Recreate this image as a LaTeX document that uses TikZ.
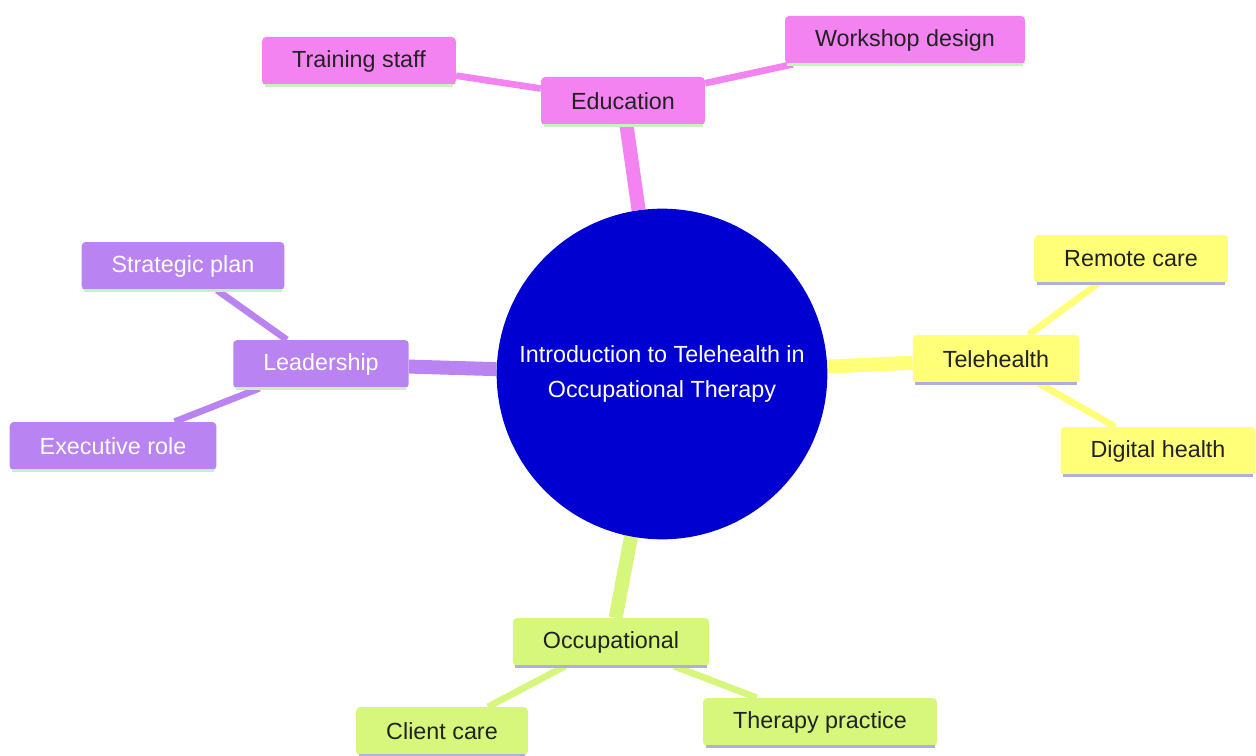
\documentclass[tikz,border=0pt]{standalone}
\usepackage{fontspec}
\setmainfont{Liberation Sans}
\usetikzlibrary{backgrounds}

\definecolor{hub}{HTML}{0000D0}
\definecolor{pinkbr}{HTML}{F283F0}
\definecolor{purplebr}{HTML}{B983F2}
\definecolor{yellowbr}{HTML}{FFFF78}
\definecolor{greenbr}{HTML}{D6F77C}
\definecolor{ulgreen}{HTML}{C6F2C0}
\definecolor{ullav}{HTML}{AFAEE3}
\definecolor{txt}{HTML}{222222}

\begin{document}
\begin{tikzpicture}[x=0.75pt,y=-0.75pt,
    font=\fontsize{17.5}{20}\selectfont,
    topic/.style={rounded corners=3pt, inner xsep=22.5pt, minimum height=36pt,
        text=txt, fill=#1},
    trunk/.style={line width=10.5pt, draw=#1},
    twig/.style={line width=5pt, draw=#1}]
    \useasboundingbox (0,0) rectangle (1256,756);

    % hub
    \node[circle, fill=hub, minimum size=248pt, text=white, align=center,
        font=\fontsize{17.5}{26}\selectfont] (hub) at (662,374)
        {Introduction to Telehealth in\\Occupational Therapy};

    % branches
    \node[topic=pinkbr] (educ) at (623,101) {Education};
    \node[topic=pinkbr] (train) at (359,61) {Training staff};
    \node[topic=pinkbr] (work) at (905,40) {Workshop design};

    \node[topic=yellowbr] (tele) at (996,359) {Telehealth};
    \node[topic=yellowbr] (remote) at (1131,259) {Remote care};
    \node[topic=yellowbr] (digital) at (1158,451) {Digital health};

    \node[topic=greenbr] (occup) at (611,642) {Occupational};
    \node[topic=greenbr] (client) at (442,731) {Client care};
    \node[topic=greenbr] (therapy) at (820,722) {Therapy practice};

    \node[topic=purplebr, text=white] (lead) at (321,364) {Leadership};
    \node[topic=purplebr, text=white] (strat) at (183,266) {Strategic plan};
    \node[topic=purplebr, text=white] (exec) at (113,446) {Executive role};

    % underlines
    \foreach \n/\c in {educ/ulgreen,train/ulgreen,work/ulgreen,lead/ulgreen,
        strat/ulgreen,exec/ulgreen,tele/ullav,remote/ullav,digital/ullav,
        occup/ullav,client/ullav,therapy/ullav}
        \draw[\c, line width=2pt] ([xshift=2pt]\n.south west) -- ([xshift=-2pt]\n.south east);

    % connectors
    \begin{scope}[on background layer]
        \draw[trunk=pinkbr] (hub) -- (educ);
        \draw[twig=pinkbr] (educ) -- (train);
        \draw[twig=pinkbr] (educ) -- (work);
        \draw[trunk=yellowbr] (hub) -- (tele);
        \draw[twig=yellowbr] (tele) -- (remote);
        \draw[twig=yellowbr] (tele) -- (digital);
        \draw[trunk=greenbr] (hub) -- (occup);
        \draw[twig=greenbr] (occup) -- (client);
        \draw[twig=greenbr] (occup) -- (therapy);
        \draw[trunk=purplebr] (hub) -- (lead);
        \draw[twig=purplebr] (lead) -- (strat);
        \draw[twig=purplebr] (lead) -- (exec);
    \end{scope}
\end{tikzpicture}
\end{document}
